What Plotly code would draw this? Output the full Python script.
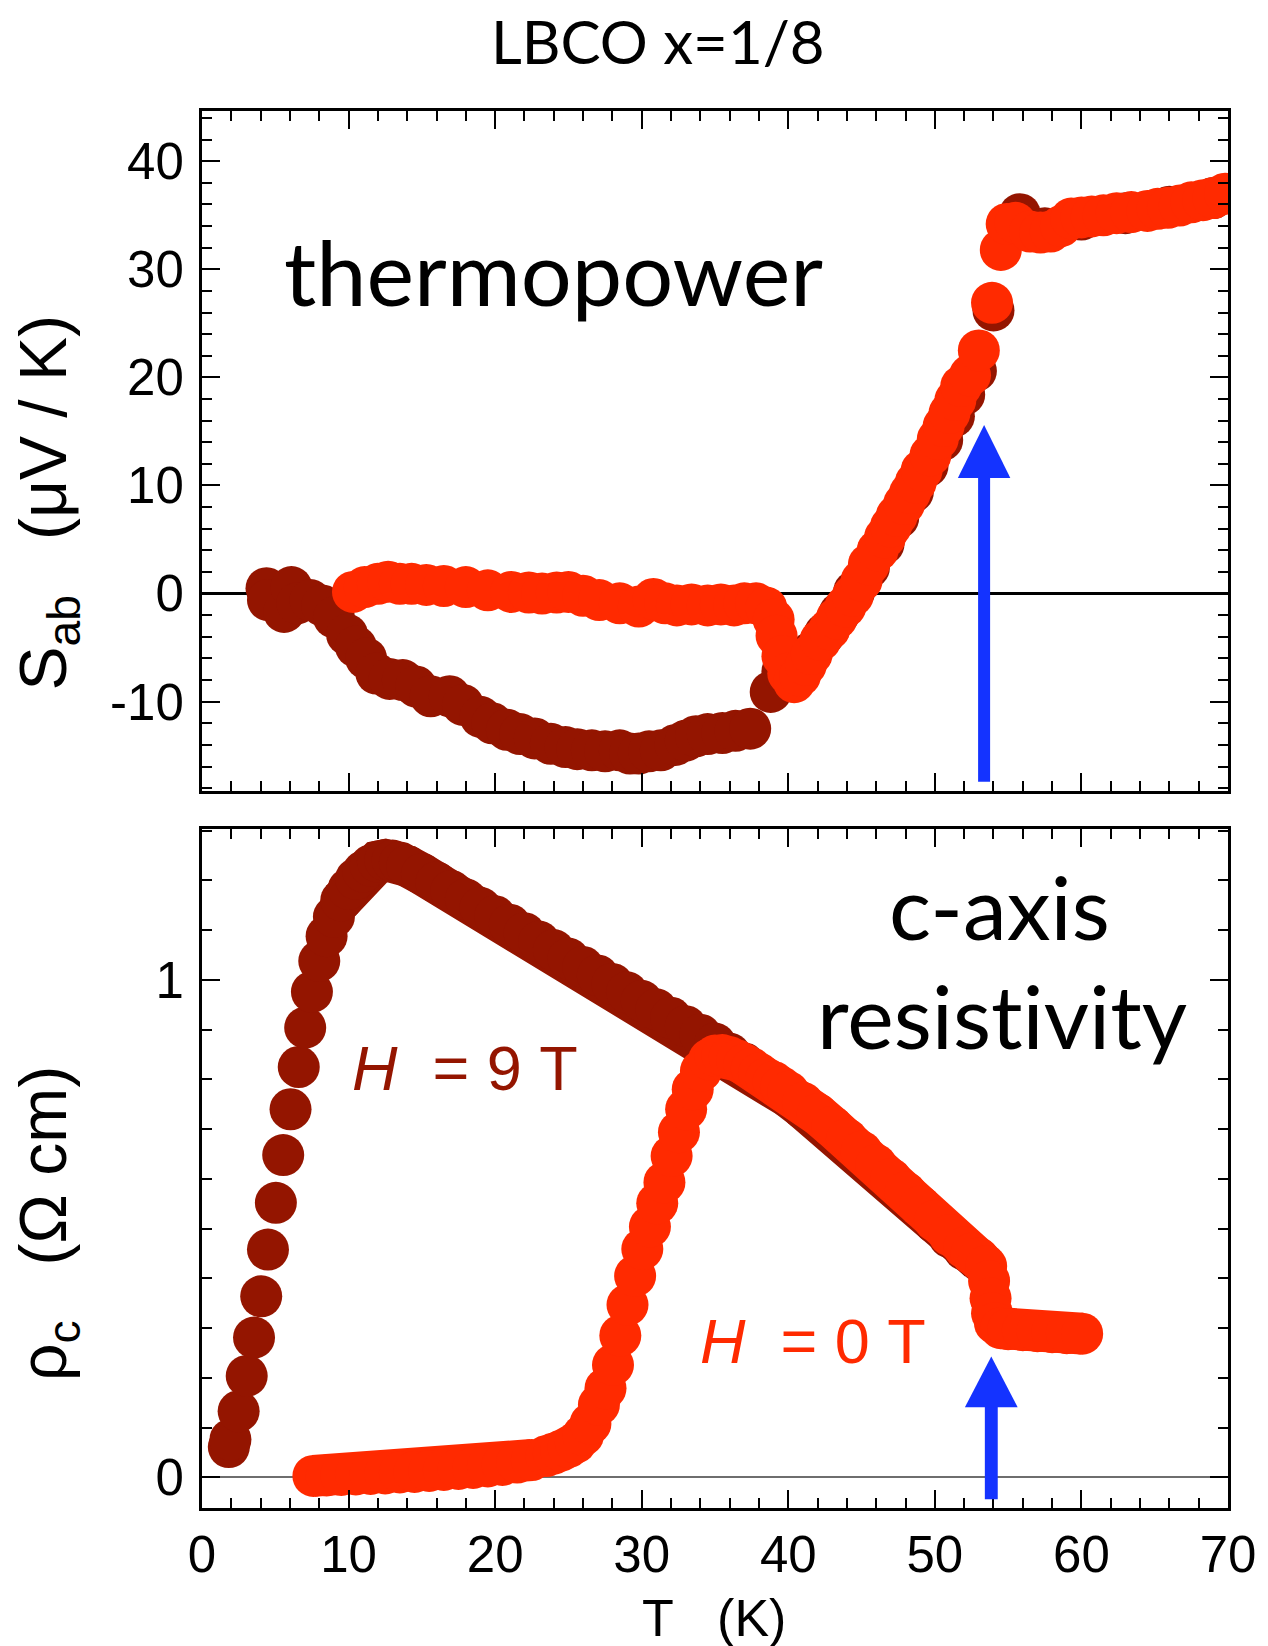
import plotly.graph_objects as go

# ---------------- data ----------------
# Top panel: thermopower S_ab (uV/K) vs T (K)
T_S9 = [4.4, 4.5, 5.6, 6.1, 6.5, 7.4, 8.2, 9.0, 9.9, 10.5, 11.2, 11.9, 12.8, 13.7, 14.6,
        15.6, 16.9, 17.8, 19.0, 19.8, 20.8, 21.7, 22.7, 23.8, 24.8, 25.6, 26.6, 27.5, 28.5, 29.2,
        29.8, 30.5, 31.3, 32.3, 33.0, 33.7, 34.5, 35.5, 36.4, 37.4, 38.8, 39.6, 40.5, 41.5, 42.5,
        43.5, 44.5, 45.5, 46.5, 47.5, 48.5, 49.5, 50.5, 51.3, 52.0, 52.8, 54.0, 55.8, 57.5, 60.0,
        63.0, 66.0, 69.0]
S_9T = [0.5, -0.6, -1.7, 0.6, -0.9, -0.6, -1.1, -2.2, -3.8, -4.9, -6.0, -7.4, -7.9, -8.0, -8.6,
        -9.5, -9.5, -10.3, -11.4, -12.0, -12.6, -13.0, -13.4, -13.9, -14.2, -14.4, -14.5, -14.6, -14.5, -14.8,
        -14.8, -14.6, -14.5, -14.0, -13.6, -13.2, -13.0, -12.9, -12.7, -12.5, -9.1, -7.2, -6.9, -5.5, -3.7,
        -1.8, 0.2, 2.4, 4.6, 7.0, 9.4, 11.8, 14.2, 16.4, 18.4, 20.6, 26.2, 35.1, 33.8, 34.6,
        35.2, 35.8, 36.6]

T_S0 = [10.3, 11.1, 12.0, 12.7, 13.5, 14.3, 15.3, 16.5, 18.0, 19.5, 21.1, 22.3, 23.2, 24.2, 25.0,
        26.0, 27.1, 28.5, 29.8, 30.8, 31.6, 32.4, 33.4, 34.5, 35.4, 36.3, 37.0, 37.8, 38.5, 39.0,
        39.2, 39.6, 40.0, 40.4, 40.8, 41.2, 41.6, 42.2, 42.8, 43.3, 43.9, 44.4, 45.0, 45.5, 46.1,
        46.6, 47.0, 47.4, 47.9, 48.3, 48.7, 49.1, 49.7, 50.2, 50.6, 51.0, 51.4, 51.8, 52.4, 53.0,
        53.9, 54.5, 54.9, 55.5, 56.5, 57.2, 57.9, 58.6, 59.3, 60.0, 60.7, 61.5, 62.4, 63.4, 64.5,
        65.2, 65.9, 66.7, 67.5, 68.3, 69.0, 69.8]
S_0T = [0.15, 0.6, 0.9, 1.1, 0.9, 0.9, 0.8, 0.7, 0.6, 0.3, 0.15, 0.1, 0.0, 0.1, 0.15,
        -0.2, -0.6, -0.9, -1.2, -0.5, -0.9, -1.1, -1.0, -1.1, -1.0, -1.1, -0.9, -0.9, -1.3, -2.4,
        -3.9, -5.8, -7.4, -8.2, -7.6, -6.6, -5.6, -4.3, -3.3, -2.3, -1.2, -0.2, 1.2, 2.7, 4.0,
        5.2, 6.2, 7.2, 8.3, 9.3, 10.3, 11.4, 12.8, 14.3, 15.5, 16.7, 17.9, 19.2, 20.2, 22.5,
        26.9, 31.8, 34.2, 34.3, 33.5, 33.4, 33.5, 34.0, 34.7, 34.8, 34.9, 35.0, 35.2, 35.3, 35.4,
        35.6, 35.7, 35.9, 36.2, 36.4, 36.6, 37.0]

# Bottom panel: c-axis resistivity rho_c (Ohm cm) vs T (K)
T_R9 = [1.83, 1.94, 2.5, 3.05, 3.55, 4.04, 4.5, 5.04, 5.54, 6.04, 6.6, 7.04, 7.5, 8.0, 8.5,
        9.0, 9.5, 10.0, 10.5, 11.0, 11.5, 12.0, 12.5, 13.0, 13.5, 14.0, 15.0, 16.0, 17.0, 18.0,
        19.0, 20.0, 21.0, 22.0, 23.0, 24.0, 25.0, 26.0, 27.0, 28.0, 29.0, 30.0, 31.0, 32.0, 33.0,
        34.0, 35.0, 36.0, 37.0, 38.0, 39.0, 40.0, 41.0, 42.0, 43.0, 44.0, 45.0, 46.0, 47.0, 48.0,
        49.0, 50.0, 51.0, 52.0, 53.0]
R_9T = [0.061, 0.076, 0.133, 0.204, 0.281, 0.364, 0.458, 0.552, 0.648, 0.740, 0.825, 0.904, 0.976, 1.038, 1.088,
        1.127, 1.160, 1.183, 1.203, 1.218, 1.230, 1.238, 1.241, 1.240, 1.236, 1.229, 1.213, 1.196, 1.179, 1.162,
        1.145, 1.128, 1.111, 1.094, 1.077, 1.060, 1.043, 1.026, 1.009, 0.992, 0.975, 0.958, 0.941, 0.924, 0.907,
        0.890, 0.872, 0.852, 0.832, 0.810, 0.788, 0.765, 0.742, 0.718, 0.694, 0.670, 0.650, 0.623, 0.596, 0.569,
        0.541, 0.512, 0.483, 0.458, 0.436]

T_R0 = [7.6, 8.5, 9.5, 10.5, 11.5, 12.5, 13.5, 14.5, 15.5, 16.5, 17.5, 18.5, 19.5, 20.5, 21.5,
        22.5, 23.5, 24.0, 24.5, 25.0, 25.5, 26.0, 26.5, 27.08, 27.53, 28.04, 28.54, 29.03, 29.55, 30.04,
        30.56, 31.06, 31.55, 32.04, 32.54, 33.03, 33.48, 34.04, 34.6, 35.0, 35.5, 36.0, 36.5, 37.0, 37.5,
        38.0, 38.5, 39.0, 39.5, 40.0, 41.0, 42.0, 43.0, 44.0, 45.0, 46.0, 47.0, 48.0, 49.0, 50.0,
        51.0, 52.0, 52.5, 53.0, 53.5, 53.7, 53.8, 53.9, 54.1, 54.5, 55.0, 56.0, 57.0, 58.0, 59.0,
        60.05]
R_0T = [0.003, 0.004, 0.005, 0.006, 0.007, 0.008, 0.010, 0.011, 0.013, 0.015, 0.017, 0.019, 0.022, 0.025, 0.030,
        0.035, 0.043, 0.048, 0.054, 0.061, 0.070, 0.085, 0.108, 0.146, 0.179, 0.226, 0.285, 0.347, 0.405, 0.459,
        0.504, 0.551, 0.593, 0.646, 0.694, 0.740, 0.780, 0.817, 0.840, 0.848, 0.849, 0.845, 0.838, 0.830, 0.822,
        0.812, 0.802, 0.795, 0.785, 0.775, 0.753, 0.730, 0.705, 0.680, 0.655, 0.628, 0.600, 0.573, 0.545, 0.516,
        0.487, 0.462, 0.450, 0.440, 0.425, 0.395, 0.360, 0.330, 0.310, 0.300, 0.298, 0.296, 0.294, 0.292, 0.290,
        0.289]

# Arrows marking the transition: [T, base, head base, tip]
ARROW_TOP = [53.36, -17.4, 10.7, 15.6]
ARROW_BOT = [53.85, -0.044, 0.141, 0.243]

X_TICKS = [0, 10, 20, 30, 40, 50, 60, 70]
S_TICKS = [-10, 0, 10, 20, 30, 40]
S_TICKTEXT = ["-10", "0", "10", "20", "30", "40"]
R_TICKS = [0, 1]

# T-ranges where the measured points are so dense that they merge into a smooth band
SMOOTH_9T = [(9.4, 53.1)]
SMOOTH_0T = [(7.5, 22.6), (34.9, 53.6), (54.4, 60.1)]

# ---------------- style ----------------
DARK = "#941500"
RED = "#FF2A00"
BLUE = "#1433FF"
NUMF = "Liberation Sans"
WORDF = "Lato"
MS = 42  # marker diameter (px)

W, H = 1268, 1646
PL, PR, PT, PB = 202.3, 1235.5, 110.7, 1508.3  # plot area in pixels
PW, PH = PR - PL, PB - PT


def xp(px):
    return (px - PL) / PW


def yp(py):
    return (PB - py) / PH


fig = go.Figure()


def band(xs, ys, ranges, color, xa, ya):
    for lo, hi in ranges:
        sx = [x for x in xs if lo <= x <= hi]
        sy = [y for x, y in zip(xs, ys) if lo <= x <= hi]
        fig.add_trace(go.Scatter(x=sx, y=sy, mode="lines", xaxis=xa, yaxis=ya, hoverinfo="skip",
                                 line=dict(color=color, width=MS, shape="linear")))


def pts(xs, ys, color, xa, ya):
    fig.add_trace(go.Scatter(x=xs, y=ys, mode="markers", xaxis=xa, yaxis=ya,
                             marker=dict(size=MS, color=color, line=dict(width=0))))


pts(T_S9, S_9T, DARK, "x2", "y2")
pts(T_S0, S_0T, RED, "x2", "y2")
band(T_R9, R_9T, SMOOTH_9T, DARK, "x", "y")
pts(T_R9, R_9T, DARK, "x", "y")
band(T_R0, R_0T, SMOOTH_0T, RED, "x", "y")
pts(T_R0, R_0T, RED, "x", "y")

common = dict(showline=True, linecolor="black", linewidth=3, mirror="allticks",
              ticks="inside", ticklen=18, tickwidth=2, tickcolor="black",
              showgrid=False, tickfont=dict(family=NUMF, size=51, color="black"))
minor = dict(ticks="inside", ticklen=10, tickwidth=2, tickcolor="black", showgrid=False)

fig.update_layout(
    width=W, height=H, showlegend=False,
    paper_bgcolor="white", plot_bgcolor="white",
    margin=dict(l=PL, r=W - PR, t=PT, b=H - PB, pad=0),
    xaxis=dict(**common, anchor="y", domain=[0, 1], range=[0, 70], tickvals=X_TICKS,
               zeroline=False, ticklabelstandoff=0, minor=dict(**minor, dtick=2)),
    xaxis2=dict(**common, anchor="y2", domain=[0, 1], range=[0, 70], tickvals=X_TICKS,
                zeroline=False, showticklabels=False, minor=dict(**minor, dtick=2)),
    yaxis=dict(**common, anchor="x", domain=[0, yp(829.3)], range=[-0.0615, 1.3028],
               tickvals=R_TICKS, zeroline=True, zerolinecolor="#6e6e6e", zerolinewidth=2,
               ticklabelstandoff=5, minor=dict(**minor, dtick=0.1)),
    yaxis2=dict(**common, anchor="x2", domain=[yp(790.7), 1], range=[-18.24, 44.65],
                tickvals=S_TICKS, ticktext=S_TICKTEXT, zeroline=True, zerolinecolor="black",
                zerolinewidth=2.5, ticklabelstandoff=5, minor=dict(**minor, dtick=2)),
)


def add_arrow(a, xref, yref, half_shaft, half_head):
    t, base, hb, tip = a
    fig.add_shape(type="rect", xref=xref, yref=yref, x0=t - half_shaft, x1=t + half_shaft,
                  y0=base, y1=hb + (tip - hb) * 0.1, fillcolor=BLUE, line=dict(width=0))
    fig.add_shape(type="path", xref=xref, yref=yref,
                  path=f"M {t - half_head} {hb} L {t} {tip} L {t + half_head} {hb} Z",
                  fillcolor=BLUE, line=dict(width=0))


add_arrow(ARROW_TOP, "x2", "y2", 0.41, 1.79)
add_arrow(ARROW_BOT, "x", "y", 0.44, 1.8)

ann = []


def text(s, x, y, font, size, color="black", xanchor="center", angle=0):
    ann.append(dict(text=s, x=xp(x), y=yp(y), xref="paper", yref="paper", showarrow=False,
                    xanchor=xanchor, yanchor="middle", textangle=angle,
                    font=dict(family=font, size=size, color=color)))


NB = "\u00a0"
text("LBCO x=1/8", 661, 41, WORDF, 60)
text("thermopower", 556, 271.2, WORDF, 90)
text("c-axis", 1005.5, 906.5, WORDF, 88)
text("resist\u200civity", 1007.5, 1015.5, WORDF, 88)
text("<i>H</i>" + NB + NB + "=" + NB + "9" + NB + "T", 351.5, 1068.5, NUMF, 63, DARK, "left")
text("<i>H</i>" + NB + NB + "=" + NB + "0" + NB + "T", 702.2, 1341.1, NUMF, 63, RED, "left")
text("S<sub>ab</sub>" + NB * 3 + "(μV / K)", 47.5, 503, NUMF, 66, angle=-90)
text("ρ<sub>c</sub>" + NB * 3 + "(Ω cm)", 47.5, 1224, NUMF, 66, angle=-90)
text("T" + NB * 3 + "(K)", 717.5, 1618, NUMF, 52)
fig.update_layout(annotations=ann)

# the page body would otherwise add an 8px margin around the figure
fig.write_html("out.html", config={"displayModeBar": False},
               post_script="document.body.style.margin='0px';")
